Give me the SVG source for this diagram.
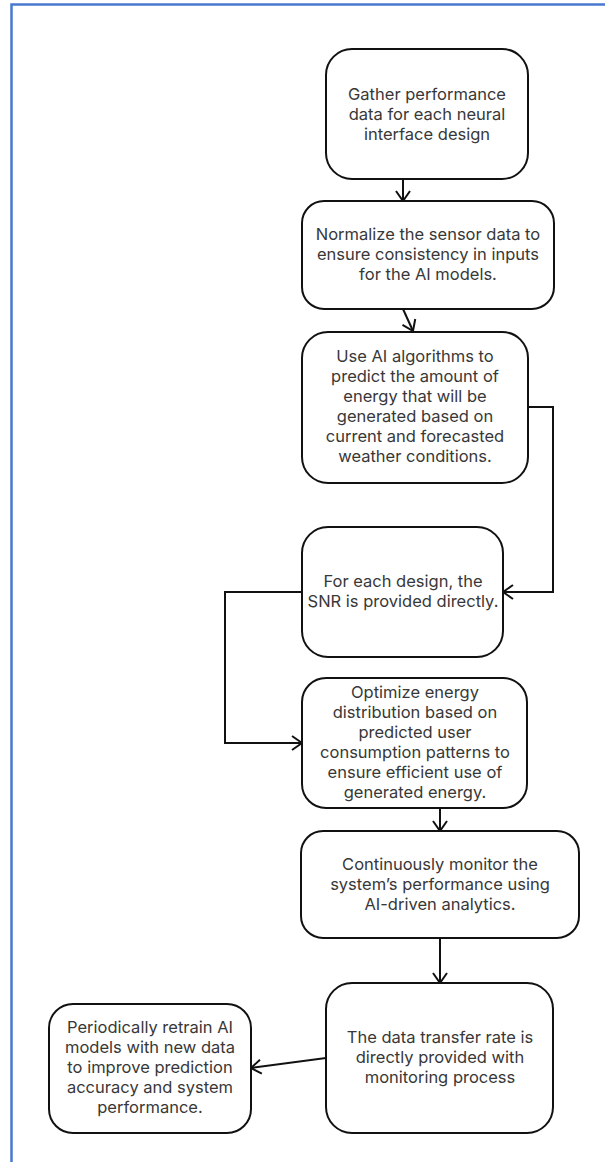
<svg xmlns="http://www.w3.org/2000/svg" width="605" height="1162" viewBox="0 0 605 1162">
<style>
.box{fill:#fff;stroke:#111;stroke-width:2}
.t{font-family:Inter,"Liberation Sans",sans-serif;font-size:16.5px;fill:#383838;text-anchor:middle}
.c{fill:none;stroke:#111;stroke-width:2;marker-end:url(#ah)}
</style>
<defs>
<marker id="ah" viewBox="0 0 12 16" refX="11" refY="8" markerWidth="12" markerHeight="16" markerUnits="userSpaceOnUse" orient="auto">
<path d="M1,1 L11,8 L1,15" fill="none" stroke="#111" stroke-width="2"/>
</marker>
</defs>
<rect width="605" height="1162" fill="#fff"/>
<path d="M11.5,1162 V4.5 H605" fill="none" stroke="#4a78d0" stroke-width="2.5"/>
<g id="connectors">
<path class="c" d="M403,179 V201"/>
<path class="c" d="M403,309 L413,331"/>
<path class="c" d="M528,407 H553 V592 H503"/>
<path class="c" d="M302,592 H225 V743 H302"/>
<path class="c" d="M440,808 V831"/>
<path class="c" d="M440,938 V983"/>
<path class="c" d="M326,1058 L251,1068"/>
</g>
<g id="n1"><rect class="box" x="326" y="49" width="202" height="130" rx="26"/>
<text class="t" x="427" y="100">Gather performance</text><text class="t" x="427" y="120">data for each neural</text><text class="t" x="427" y="140">interface design</text></g>
<g id="n2"><rect class="box" x="302" y="201" width="252" height="108" rx="22"/>
<text class="t" x="428" y="240">Normalize the sensor data to</text><text class="t" x="428" y="260">ensure consistency in inputs</text><text class="t" x="428" y="280">for the AI models.</text></g>
<g id="n3"><rect class="box" x="302" y="332" width="226" height="151" rx="26"/>
<text class="t" x="415" y="362">Use AI algorithms to</text><text class="t" x="415" y="382">predict the amount of</text><text class="t" x="415" y="402">energy that will be</text><text class="t" x="415" y="422">generated based on</text><text class="t" x="415" y="442">current and forecasted</text><text class="t" x="415" y="462">weather conditions.</text></g>
<g id="n4"><rect class="box" x="302" y="527" width="201" height="130" rx="26"/>
<text class="t" x="403" y="587">For each design, the</text><text class="t" x="403" y="607">SNR is provided directly.</text></g>
<g id="n5"><rect class="box" x="302" y="678" width="225" height="130" rx="24"/>
<text class="t" x="415" y="698">Optimize energy</text><text class="t" x="415" y="718">distribution based on</text><text class="t" x="415" y="738">predicted user</text><text class="t" x="415" y="758">consumption patterns to</text><text class="t" x="415" y="778">ensure efficient use of</text><text class="t" x="415" y="798">generated energy.</text></g>
<g id="n6"><rect class="box" x="301" y="831" width="278" height="107" rx="22"/>
<text class="t" x="440" y="870">Continuously monitor the</text><text class="t" x="440" y="890">system’s performance using</text><text class="t" x="440" y="910">AI-driven analytics.</text></g>
<g id="n7"><rect class="box" x="326" y="983" width="227" height="150" rx="26"/>
<text class="t" x="440" y="1043">The data transfer rate is</text><text class="t" x="440" y="1063">directly provided with</text><text class="t" x="440" y="1083">monitoring process</text></g>
<g id="n8"><rect class="box" x="49" y="1004" width="202" height="129" rx="24"/>
<text class="t" x="150" y="1033">Periodically retrain AI</text><text class="t" x="150" y="1053">models with new data</text><text class="t" x="150" y="1073">to improve prediction</text><text class="t" x="150" y="1093">accuracy and system</text><text class="t" x="150" y="1113">performance.</text></g>
</svg>
